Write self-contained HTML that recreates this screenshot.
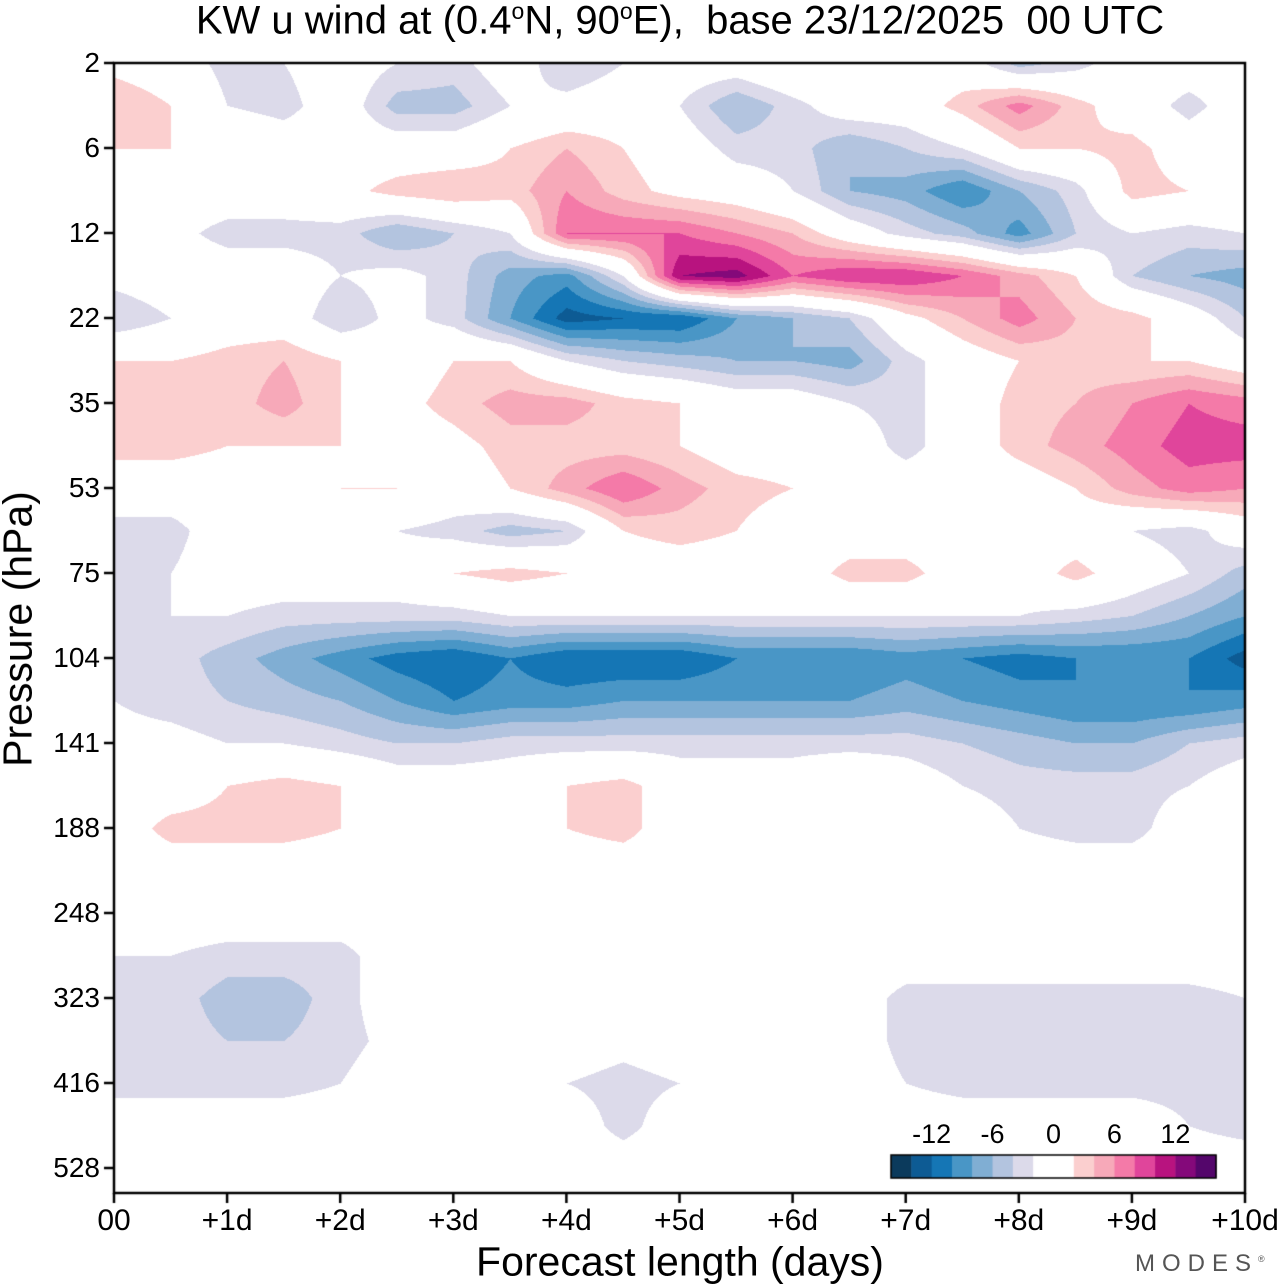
<!DOCTYPE html>
<html><head><meta charset="utf-8">
<style>
body{margin:0;background:#fff;width:1280px;height:1286px;overflow:hidden;font-family:"Liberation Sans",sans-serif;position:relative}
.t{position:absolute;white-space:nowrap;color:#000}
</style></head><body>
<div class="t" style="left:680px;top:-2px;font-size:40px;transform:translateX(-50%)">KW u wind at (0.4<sup style="font-size:23px">o</sup>N, 90<sup style="font-size:23px">o</sup>E),&nbsp; base 23/12/2025&nbsp; 00 UTC</div>
<canvas id="c" width="1280" height="1286" style="position:absolute;left:0;top:0"></canvas>
<div class="t" style="left:18px;top:629px;font-size:41px;transform:translate(-50%,-50%) rotate(-90deg);">Pressure (hPa)</div>
<div class="t" style="left:680px;top:1262px;font-size:41px;transform:translate(-50%,-50%)">Forecast length (days)</div>
<div class="t" style="left:1135px;top:1250px;font-size:24px;letter-spacing:7px;color:#555">MODES<sup style="font-size:9px">®</sup></div>
<div id="labels"></div>
<script>
const times=[0,0.5,1,1.5,2,2.5,3,3.5,4,4.5,5,5.5,6,6.5,7,7.5,8,8.5,9,9.5,10];
const yTickLabels=["2","6","12","22","35","53","75","104","141","188","248","323","416","528"];
const xTickLabels=["00","+1d","+2d","+3d","+4d","+5d","+6d","+7d","+8d","+9d","+10d"];
const levels=[-16,-14,-12,-10,-8,-6,-4,-2,2,4,6,8,10,12,14,16];
const colors=["#0b3a5c","#0d5b94","#1576b5","#4996c6","#80aed3","#b3c4df","#dcdaea","#ffffff","#fbcfcf","#f7a9b9","#f47aa8","#e0459b","#b8137f","#84097a","#54066b"];
const cbLabels=["-12","-6","0","6","12"];
const u=[
[1,0,-3,-2,0,-2,-3,0,-4,-2,0,0,2,2,0,0,-5,-3,0,0,0],
[4,2,-2,-3,0,-5,-5,-2,-1,0,-2,-6,-3,0,0,3,7,3,0,-3,0],
[2,2,1,0,0,0,0,2,4,2,0,-3,-3,-6,-4,-2,2,2,3,0,2],
[0,0,0,0,1,3,4,3,6,3,1,0,-2,-6,-7,-10,-6,-3,3,2,2],
[0,-1,-3,-3,-3,-6,-4,-2,8,8,8,6,4,0,-3,-5,-9,-4,-2,-3,-2],
[-1,0,0,0,-2,-1,-3,-7,-9,-2,12,13,8,10,10,8,5,2,-4,-6,-7],
[-4,-2,0,0,-4,-1,-3,-8,-13,-12,-12,-8,-6,-4,1,4,7,4,3,0,-4],
[2,2,3,4,2,0,2,2,-2,-4,-5,-6,-6,-7,-3,0,2,3,2,2,0],
[3,4,3,5,2,1,3,5,5,3,2,0,0,-2,-3,0,3,4,6,8,7],
[3,3,2,2,2,0,1,3,3,3,2,0,0,0,-3,0,3,5,7,9,9],
[0,0,0,0,2,2,0,2,5,8,5,3,2,0,0,0,0,2,5,7,6],
[-3,-3,0,0,0,-2,-3,-5,-4,2,3,2,0,0,0,0,0,0,-2,-3,0],
[-3,-2,0,0,0,0,2,3,2,0,0,0,0,3,3,0,0,3,0,-2,-5],
[-3,-2,-2,-3,-3,-3,-3,-2,-2,-2,-2,-2,-2,-2,-2,-2,-2,-3,-4,-6,-8],
[-3,-3,-5,-7,-9,-11,-12,-10,-12,-12,-12,-10,-10,-10,-9,-10,-11,-10,-10,-10,-13],
[-2,-3,-4,-5,-6,-8,-10,-9,-9,-8,-8,-8,-8,-8,-7,-8,-9,-10,-10,-10,-9],
[-1,-1,-2,-2,-3,-4,-4,-3,-3,-3,-3,-3,-3,-3,-3,-4,-5,-6,-6,-4,-3],
[0,0,2,3,2,0,0,0,2,3,0,0,0,2,0,-2,-3,-3,-3,-2,0],
[0,3,3,3,2,0,0,0,2,3,0,0,0,0,0,0,-2,-3,-3,0,0],
[0,0,0,0,0,0,0,0,0,0,0,0,0,0,0,0,0,0,0,0,0],
[0,0,0,0,0,0,-2,0,0,0,0,0,0,0,0,0,0,0,0,0,0],
[-2,-2,-3,-3,-3,0,0,0,0,0,0,0,0,0,0,0,0,0,0,0,0],
[-3,-3,-5,-5,-3,0,0,0,0,0,0,0,0,0,-3,-3,-3,-3,-3,-3,-2],
[-3,-3,-4,-4,-3,-1,0,0,0,-1,0,0,0,0,-3,-3,-3,-3,-3,-3,-3],
[-3,-3,-3,-3,-2,0,0,0,-2,-3,-2,0,0,0,-2,-3,-3,-3,-3,-3,-3],
[0,0,0,0,0,0,0,0,0,-3,0,0,0,0,0,0,0,0,0,-2,-3],
[0,0,0,0,0,0,0,0,0,0,0,0,0,0,0,0,0,0,0,0,0],
[0,0,0,0,0,0,0,0,0,0,0,0,0,0,0,0,0,0,3,2,0]
];
const X0=114,X1=1245,Y0=63,Y1=1193,ROWH=42.5;
const xs=d=>X0+(X1-X0)*d/10;
const ys=r=>Y0+ROWH*r;
const cv=document.getElementById('c'),ctx=cv.getContext('2d');
function hex(h){return [parseInt(h.substr(1,2),16),parseInt(h.substr(3,2),16),parseInt(h.substr(5,2),16)];}
const rgb=colors.map(hex);
const W=X1-X0,H=Y1-Y0;
const img=ctx.createImageData(W,H);
const nr=u.length,nc=times.length;
for(let py=0;py<H;py++){
  let r=(py)/ROWH; if(r>nr-1)r=nr-1;
  const r0=Math.min(Math.floor(r),nr-2),fr=r-r0;
  for(let px=0;px<W;px++){
    const d=px/W*10;
    let c=d/(times[1]-times[0]); const c0=Math.min(Math.floor(c),nc-2),fc=c-c0;
    const v=(u[r0][c0]*(1-fc)+u[r0][c0+1]*fc)*(1-fr)+(u[r0+1][c0]*(1-fc)+u[r0+1][c0+1]*fc)*fr;
    let k=0;while(k<colors.length-1&&v>=levels[k+1])k++;
    const cc=rgb[k],i=(py*W+px)*4;
    img.data[i]=cc[0];img.data[i+1]=cc[1];img.data[i+2]=cc[2];img.data[i+3]=255;
  }
}
ctx.putImageData(img,X0,Y0);
const cbx=891,cbw=325,cby=1155,cbh=23,bw=cbw/16;
let bi=0;
for(let k=0;k<colors.length;k++){
  const n=(colors[k]=="#ffffff")?2:1;
  ctx.fillStyle=colors[k];ctx.fillRect(cbx+bi*bw,cby,bw*n+0.5,cbh);bi+=n;
}
ctx.strokeStyle="#000";ctx.lineWidth=1.5;ctx.strokeRect(cbx,cby,cbw,cbh);
ctx.lineWidth=2.5;ctx.strokeRect(X0,Y0,W,H);
ctx.beginPath();
yTickLabels.forEach((l,i)=>{const y=ys(2*i);ctx.moveTo(X0-10,y);ctx.lineTo(X0,y);});
xTickLabels.forEach((l,i)=>{const x=xs(i);ctx.moveTo(x,Y1);ctx.lineTo(x,Y1+10);});
ctx.stroke();
const lab=document.getElementById('labels');
yTickLabels.forEach((l,i)=>{
  const e=document.createElement('div');e.className='t';e.textContent=l;
  
  
  e.style.cssText=`right:${1280-100}px;top:${ys(2*i)-16}px;font-size:28px`;lab.appendChild(e);
});
xTickLabels.forEach((l,i)=>{
  const e=document.createElement('div');e.className='t';e.textContent=l;
  
  
  e.style.cssText=`left:${xs(i)}px;top:1204px;font-size:30px;transform:translateX(-50%)`;lab.appendChild(e);
});
cbLabels.forEach((l,i)=>{
  const e=document.createElement('div');e.className='t';e.textContent=l;
  
  
  const v=+l;const x=cbx+(v+16)/32*cbw;
  e.style.cssText=`left:${x}px;top:1119px;font-size:27px;transform:translateX(-50%)`;lab.appendChild(e);
});
</script>
</body></html>
